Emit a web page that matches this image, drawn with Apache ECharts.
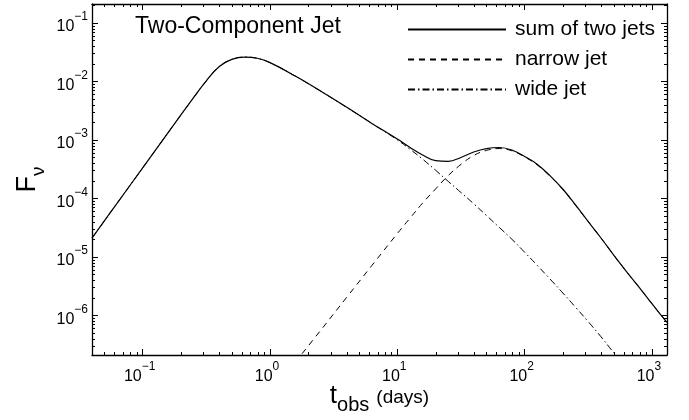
<!DOCTYPE html>
<html><head><meta charset="utf-8">
<script src="https://cdn.jsdelivr.net/npm/echarts@6/dist/echarts.min.js"></script>
<style>html,body{margin:0;padding:0;background:#fff}#c{width:689px;height:420px}</style>
</head><body><div id="c"></div>
<script>
// observation times (days)
const tDays = [0.04, 0.0631, 0.1, 0.158, 0.251, 0.316, 0.398, 0.501, 0.631, 0.794, 1, 1.58, 2.51, 3.98, 6.31, 10, 12.6, 15.8, 20, 25.1, 31.6, 39.8, 50.1, 63.1, 79.4, 100, 126, 158, 200, 251, 316, 398, 501, 631, 794, 1000, 1310];
// flux of the sum of both jets
const sumJets = [2.09e-5, 8.3e-5, 3.31e-4, 1.32e-3, 5.25e-3, 1.02e-2, 1.78e-2, 2.37e-2, 2.60e-2, 2.48e-2, 2.09e-2, 1.23e-2, 6.76e-3, 3.63e-3, 1.91e-3, 1.03e-3, 7.4e-4, 5.5e-4, 4.4e-4, 4.3e-4, 5.0e-4, 6.2e-4, 7.1e-4, 7.4e-4, 6.7e-4, 5.2e-4, 3.8e-4, 2.45e-4, 1.43e-4, 7.7e-5, 4.0e-5, 2.1e-5, 1.07e-5, 5.6e-6, 3.0e-6, 1.58e-6, 7.6e-7];
// narrow jet flux
const narrowJet = [null, null, null, null, null, null, null, null, null, null, null, 1.58e-7, 5.6e-7, 2.0e-6, 7.1e-6, 2.5e-5, 4.6e-5, 8.3e-5, 1.45e-4, 2.45e-4, 3.8e-4, 5.4e-4, 6.6e-4, 7.1e-4, 6.5e-4, 5.1e-4, 3.7e-4, 2.4e-4, 1.41e-4, 7.6e-5, 4.0e-5, 2.1e-5, 1.07e-5, 5.6e-6, 3.0e-6, 1.58e-6, 7.6e-7];
// wide jet flux
const wideJet = [2.09e-5, 8.3e-5, 3.31e-4, 1.32e-3, 5.25e-3, 1.02e-2, 1.78e-2, 2.37e-2, 2.60e-2, 2.48e-2, 2.09e-2, 1.23e-2, 6.76e-3, 3.63e-3, 1.91e-3, 1.0e-3, 6.9e-4, 4.68e-4, 3.02e-4, 1.95e-4, 1.26e-4, 8.1e-5, 5.1e-5, 3.2e-5, 2.0e-5, 1.2e-5, 7.1e-6, 4.2e-6, 2.4e-6, 1.38e-6, 7.8e-7, 4.3e-7, 2.3e-7, 1.26e-7, null, null, null];
const seriesNames = ['sum of two jets', 'narrow jet', 'wide jet'];
const titleText = 'Two-Component Jet';
const xRange = [0.04, 1313];
const yRange = [2.1e-7, 0.21];

const FONT = 'Liberation Sans, Arial, Helvetica, sans-serif';
function pairs(ys) {
  const out = [];
  for (let i = 0; i < tDays.length; i++) if (ys[i] != null) out.push([tDays[i], ys[i]]);
  return out;
}
function powLabel(v) {
  const e = Math.round(Math.log10(v));
  return '{b|10}{s|' + (e < 0 ? '\u2212' + (-e) : String(e)) + '}';
}
const labelRich = {
  b: { fontSize: 16, fontFamily: FONT, color: '#000', lineHeight: 24, verticalAlign: 'bottom' },
  s: { fontSize: 12, fontFamily: FONT, color: '#000', lineHeight: 12, verticalAlign: 'top' }
};
const lineBase = { color: '#000', width: 1.2 };
function axisCommon(extra) {
  return Object.assign({
    type: 'log', logBase: 10,
    axisLine: { show: true, lineStyle: { color: '#000', width: 1.3 } },
    axisTick: { show: true, inside: true, length: 6, lineStyle: { color: '#000', width: 1 } },
    splitLine: { show: false },
    minorTick: { show: false },
    minorSplitLine: { show: false }
  }, extra);
}
const minorX = [], minorY = [];
for (let k = -3; k <= 4; k++) for (let m = 2; m <= 9; m++) {
  const v = m * Math.pow(10, k);
  if (v > xRange[0] && v < xRange[1]) minorX.push(v);
}
for (let k = -8; k <= 0; k++) for (let m = 2; m <= 9; m++) {
  const v = m * Math.pow(10, k);
  if (v > yRange[0] && v < yRange[1]) minorY.push(v);
}

const chart = echarts.init(document.getElementById('c'), null, { renderer: 'canvas' });
chart.setOption({
  animation: false,
  backgroundColor: '#fff',
  color: ['#000', '#000', '#000'],
  title: {
    text: titleText, left: 130, top: 10,
    textStyle: { fontSize: 23, fontWeight: 'normal', color: '#000', fontFamily: FONT }
  },
  legend: {
    data: seriesNames.map(n => ({ name: n })),
    orient: 'vertical', left: 402, top: 14,
    itemWidth: 98, itemHeight: 14, itemGap: 9,
    selectedMode: false,
    itemStyle: { opacity: 0 },
    textStyle: { fontSize: 21, color: '#000', fontFamily: FONT, padding: [0, 0, 0, 4] }
  },
  grid: { left: 92, top: 4, width: 575, height: 354, containLabel: false },
  xAxis: [
    axisCommon({
      position: 'bottom', min: xRange[0], max: xRange[1],
      axisLabel: { show: true, margin: 6, formatter: powLabel, rich: labelRich, padding: [0, 6, 0, 0], showMinLabel: false, showMaxLabel: false },
      name: '{t|t}{o|obs}{d|(days)}', nameLocation: 'middle', nameGap: 28, nameMoveOverlap: false,
      nameTextStyle: {
        rich: {
          t: { fontSize: 26, lineHeight: 26, fontFamily: FONT, color: '#000', verticalAlign: 'top' },
          o: { fontSize: 20, lineHeight: 20, fontFamily: FONT, color: '#000', verticalAlign: 'top', padding: [12, 7, 0, 0] },
          d: { fontSize: 19, lineHeight: 19, fontFamily: FONT, color: '#000', verticalAlign: 'top', padding: [5, 0, 0, 0] }
        }
      }
    }),
    axisCommon({
      position: 'top', min: xRange[0], max: xRange[1],
      axisLabel: { show: false }
    })
  ],
  yAxis: [
    axisCommon({
      position: 'left', min: yRange[0], max: yRange[1],
      axisLabel: { show: true, margin: 4, formatter: powLabel, rich: labelRich, showMinLabel: false, showMaxLabel: false },
      name: '{f|F}{n|\u03bd}', nameLocation: 'middle', nameGap: 51, nameMoveOverlap: false,
      nameTextStyle: {
        rich: {
          f: { fontSize: 27, lineHeight: 27, fontFamily: FONT, color: '#000', verticalAlign: 'top' },
          n: { fontSize: 19, lineHeight: 19, fontFamily: FONT, color: '#000', verticalAlign: 'top', padding: [15, 0, 0, 0] }
        }
      }
    }),
    axisCommon({
      position: 'right', min: yRange[0], max: yRange[1],
      axisLabel: { show: false }
    })
  ],
  series: [
    {
      name: seriesNames[0], type: 'line', data: pairs(sumJets), symbol: 'none', smooth: 0.4,
      xAxisIndex: 0, yAxisIndex: 0, clip: true, itemStyle: { color: '#000' },
      lineStyle: Object.assign({}, lineBase, { type: 'solid' }), z: 4
    },
    {
      name: seriesNames[1], type: 'line', data: pairs(narrowJet), symbol: 'none', smooth: 0.4,
      xAxisIndex: 0, yAxisIndex: 0, clip: true, itemStyle: { color: '#000' },
      lineStyle: Object.assign({}, lineBase, { type: [6, 5], width: 1 }), z: 3
    },
    {
      name: seriesNames[2], type: 'line', data: pairs(wideJet), symbol: 'none', smooth: 0.4,
      xAxisIndex: 0, yAxisIndex: 0, clip: true, itemStyle: { color: '#000' },
      lineStyle: Object.assign({}, lineBase, { type: [7, 3, 1.5, 3], width: 1 }), z: 3
    },
    {
      type: 'custom', name: 'minorTicks', xAxisIndex: 0, yAxisIndex: 0, silent: true, clip: false, z: 6,
      data: [[1, 1e-3]],
      renderItem: function (params, api) {
        const cs = params.coordSys;
        const ch = [];
        const st = { stroke: '#000', lineWidth: 1 };
        minorX.forEach(v => {
          const px = Math.round(api.coord([v, 1e-3])[0]) + 0.5;
          ch.push({ type: 'line', shape: { x1: px, y1: cs.y + cs.height, x2: px, y2: cs.y + cs.height - 3 }, style: st });
          ch.push({ type: 'line', shape: { x1: px, y1: cs.y, x2: px, y2: cs.y + 3 }, style: st });
        });
        minorY.forEach(v => {
          const py = Math.round(api.coord([1, v])[1]) + 0.5;
          ch.push({ type: 'line', shape: { x1: cs.x, y1: py, x2: cs.x + 3, y2: py }, style: st });
          ch.push({ type: 'line', shape: { x1: cs.x + cs.width, y1: py, x2: cs.x + cs.width - 3, y2: py }, style: st });
        });
        return { type: 'group', children: ch };
      }
    }
  ]
});
</script>
</body></html>
